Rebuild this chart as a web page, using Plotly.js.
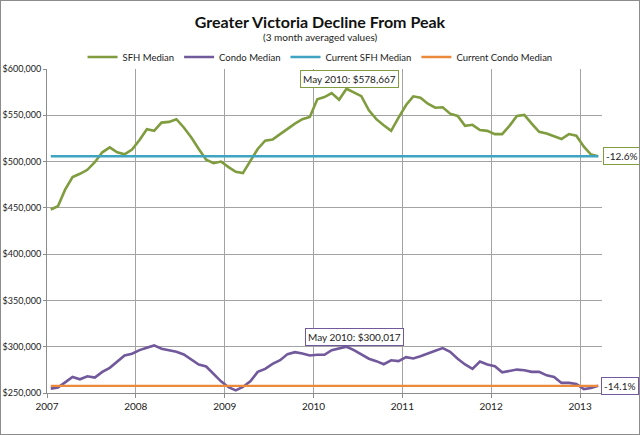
<!DOCTYPE html>
<html>
<head>
<meta charset="utf-8">
<script src="https://cdn.plot.ly/plotly-3.0.1.min.js"></script>
<style>
    body { margin: 0; background: #fff; }
    #wrap { position: relative; width: 640px; height: 435px; }
    #frame { position: absolute; left: 0; top: 0; width: 640px; height: 435px;
             box-sizing: border-box; border: 1px solid #8c8c8c; pointer-events: none; }
</style>
</head>
<body>
<div id="wrap">
    <div id="plot" style="width:640px;height:435px;"></div>
    <div id="frame"></div>
</div>
<script>
// monthly points, 3 month averaged
const months = [
    '2007-01', '2007-02', '2007-03', '2007-04', '2007-05', '2007-06', '2007-07', '2007-08', '2007-09', '2007-10', '2007-11', '2007-12',
    '2008-01', '2008-02', '2008-03', '2008-04', '2008-05', '2008-06', '2008-07', '2008-08', '2008-09', '2008-10', '2008-11', '2008-12',
    '2009-01', '2009-02', '2009-03', '2009-04', '2009-05', '2009-06', '2009-07', '2009-08', '2009-09', '2009-10', '2009-11', '2009-12',
    '2010-01', '2010-02', '2010-03', '2010-04', '2010-05', '2010-06', '2010-07', '2010-08', '2010-09', '2010-10', '2010-11', '2010-12',
    '2011-01', '2011-02', '2011-03', '2011-04', '2011-05', '2011-06', '2011-07', '2011-08', '2011-09', '2011-10', '2011-11', '2011-12',
    '2012-01', '2012-02', '2012-03', '2012-04', '2012-05', '2012-06', '2012-07', '2012-08', '2012-09', '2012-10', '2012-11', '2012-12',
    '2013-01', '2013-02', '2013-03'
];

const sfhMedian = [
    448200, 451800, 469700, 483200, 486800, 491100, 499300, 510000, 515300, 510000, 507800, 512900,
    523200, 535000, 533200, 542100, 542900, 545800, 536800, 526000, 513600, 502100, 498200, 500000,
    494000, 489000, 487500, 501100, 513600, 522500, 523900, 529700, 535700, 541000, 545800, 548200,
    567200, 569700, 574000, 566800, 578667, 574300, 570700, 555400, 545800, 539300, 533200, 547500,
    561100, 570500, 568900, 562500, 558200, 558600, 551800, 549300, 538600, 539700, 534000, 533200,
    529700, 529700, 538600, 549300, 550400, 541000, 532200, 530300, 527100, 524300, 529700, 527900,
    516100, 507500, 505755
];

const condoMedian = [
    254700, 255800, 261500, 267400, 264800, 268000, 266600, 272800, 277200, 284000, 290500, 292400,
    296300, 298900, 301400, 297800, 296300, 294600, 291600, 286200, 280800, 278600, 270600, 262600,
    256300, 252800, 256500, 262600, 272800, 276100, 281500, 285400, 292000, 294100, 292700, 290500,
    291300, 291300, 296300, 298200, 300017, 296300, 291600, 287000, 284400, 281100, 285400, 284400,
    288700, 287300, 289800, 292400, 295700, 298500, 294600, 287000, 280800, 276100, 284000, 280800,
    278900, 272400, 273500, 275300, 274600, 272800, 272800, 269100, 267400, 260900, 260900, 259800,
    254300, 255400, 257700
];

const monthNames = ['Jan', 'Feb', 'Mar', 'Apr', 'May', 'Jun', 'Jul', 'Aug', 'Sep', 'Oct', 'Nov', 'Dec'];

const green = '#7f9c3e', purple = '#71599c', blue = '#3fa3c2', orange = '#ec8a3c';
const fontFam = 'Lato, "Open Sans", sans-serif';

// peak month is taken from the SFH series, used for both labels
const peakIdx = sfhMedian.indexOf(Math.max(...sfhMedian));
const last = months.length - 1;
const curSFH = sfhMedian[last];
const curCondo = condoMedian[last];

function peakLabel(values) {
    const [yr, mo] = months[peakIdx].split('-');
    return monthNames[Number(mo) - 1] + ' ' + yr + ': $' + values[peakIdx].toLocaleString('en-US');
}

function dropLabel(values) {
    return ((values[last] - values[peakIdx]) / values[peakIdx] * 100).toFixed(1) + '%';
}

const common = {
    mode: 'lines',
    xperiod: 'M1',
    xperiodalignment: 'middle',
    hoverinfo: 'skip'
};

const traces = [
    Object.assign({}, common, {
        x: months, y: sfhMedian, name: 'SFH Median',
        line: {color: green, width: 2.6}
    }),
    Object.assign({}, common, {
        x: months, y: condoMedian, name: 'Condo Median',
        line: {color: purple, width: 2.6}
    }),
    Object.assign({}, common, {
        x: [months[0], months[last]], y: [curSFH, curSFH], name: 'Current SFH Median',
        line: {color: blue, width: 2.4}
    }),
    Object.assign({}, common, {
        x: [months[0], months[last]], y: [curCondo, curCondo], name: 'Current Condo Median',
        line: {color: orange, width: 2.4}
    })
];

function box(x, y, text, color, extra) {
    return Object.assign({
        x: x, y: y, xref: 'x', yref: 'y', text: text, showarrow: false,
        font: {family: fontFam, size: 10, color: '#222'},
        bgcolor: '#fff', bordercolor: color, borderwidth: 1, borderpad: 2
    }, extra);
}

// point dates shifted to mid month to sit on the markers
const peakX = months[peakIdx] + '-15';
const lastX = months[last] + '-15';

const annotations = [
    box(peakX, sfhMedian[peakIdx], peakLabel(sfhMedian), green, {yanchor: 'bottom', yshift: 1, xshift: 3}),
    box(peakX, condoMedian[peakIdx], peakLabel(condoMedian), purple, {yanchor: 'bottom', yshift: 1, xshift: 8}),
    box(lastX, curSFH, dropLabel(sfhMedian), green, {xanchor: 'left', xshift: 5}),
    box(lastX, curCondo, dropLabel(condoMedian), purple, {xanchor: 'left', xshift: 3}),
    {
        xref: 'paper', yref: 'paper', x: 0.492, y: 1.099, yanchor: 'middle',
        text: '(3 month averaged values)', showarrow: false,
        font: {family: fontFam, size: 10, color: '#222'}
    }
];

const layout = {
    width: 640,
    height: 435,
    margin: {l: 47, r: 38, t: 69, b: 42},
    paper_bgcolor: '#fff',
    plot_bgcolor: '#fff',
    font: {family: fontFam, size: 10, color: '#222'},
    title: {
        text: '<b>Greater Victoria Decline From Peak</b>',
        font: {family: fontFam, size: 16, color: '#111'},
        x: 0.5, xanchor: 'center',
        y: 1 - 22 / 435, yanchor: 'middle'
    },
    showlegend: true,
    legend: {
        orientation: 'h',
        x: 0.492, xanchor: 'center',
        y: 1.037, yanchor: 'middle',
        font: {family: fontFam, size: 9.5, color: '#222'},
        itemwidth: 30,
        bgcolor: 'rgba(0,0,0,0)'
    },
    xaxis: {
        type: 'date',
        range: ['2007-01-01', '2013-04-01'],
        tick0: '2007-01-01',
        dtick: 'M12',
        tickformat: '%Y',
        showgrid: true,
        gridcolor: '#a3a3a3',
        gridwidth: 1,
        showline: true,
        linecolor: '#8c8c8c',
        ticks: 'outside',
        ticklen: 4,
        tickcolor: '#8c8c8c',
        zeroline: false,
        tickfont: {family: fontFam, size: 10, color: '#222'}
    },
    yaxis: {
        range: [250000, 600000],
        dtick: 50000,
        tickprefix: '$',
        tickformat: ',d',
        showgrid: true,
        gridcolor: '#a3a3a3',
        gridwidth: 1,
        showline: true,
        linecolor: '#8c8c8c',
        ticks: 'outside',
        ticklen: 3,
        tickcolor: '#8c8c8c',
        zeroline: false,
        tickfont: {family: fontFam, size: 9, color: '#222'}
    },
    annotations: annotations
};

Plotly.newPlot('plot', traces, layout, {displayModeBar: false, staticPlot: true});
</script>
</body>
</html>
